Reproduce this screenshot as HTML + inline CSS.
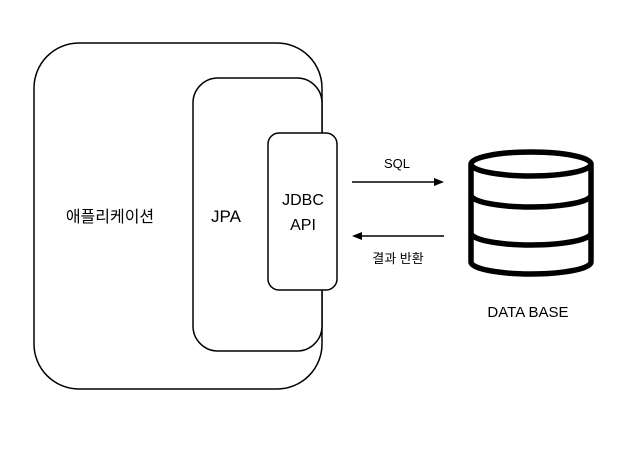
<!DOCTYPE html>
<html><head><meta charset="utf-8"><style>
body{margin:0;background:#fff;width:642px;height:444px;overflow:hidden}
text{font-family:"Liberation Sans","Noto Sans CJK KR",sans-serif;fill:#000}
</style></head><body>
<svg width="642" height="444" viewBox="0 0 642 444">
<rect x="34" y="43" width="288" height="346" rx="45" fill="#fff" stroke="#000" stroke-width="1.5"/>
<rect x="193" y="78" width="129" height="273" rx="25" fill="#fff" stroke="#000" stroke-width="1.5"/>
<rect x="268" y="133" width="69" height="157" rx="11" fill="#fff" stroke="#000" stroke-width="1.5"/>
<text x="110" y="222" font-size="16" text-anchor="middle">애플리케이션</text>
<text x="226" y="222" font-size="17" text-anchor="middle">JPA</text>
<text x="303" y="205" font-size="16" text-anchor="middle">JDBC</text>
<text x="303" y="230" font-size="16" text-anchor="middle">API</text>
<line x1="352" y1="182" x2="436" y2="182" stroke="#000" stroke-width="1.5"/>
<polygon points="444,182 434,178 434,186" fill="#000"/>
<line x1="360" y1="236" x2="444" y2="236" stroke="#000" stroke-width="1.5"/>
<polygon points="352,236 362,232 362,240" fill="#000"/>
<text x="397" y="168" font-size="13" text-anchor="middle">SQL</text>
<text x="398" y="263" font-size="13" text-anchor="middle">결과 반환</text>
<g fill="none" stroke="#000" stroke-width="5.5">
<ellipse cx="531" cy="164" rx="60" ry="12"/>
<path d="M471 164 V262 A60 12 0 0 0 591 262 V164"/>
<path d="M471 195 A60 12 0 0 0 591 195"/>
<path d="M471 233 A60 12 0 0 0 591 233"/>
</g>
<text x="528" y="317" font-size="15" text-anchor="middle">DATA BASE</text>
</svg>
</body></html>
